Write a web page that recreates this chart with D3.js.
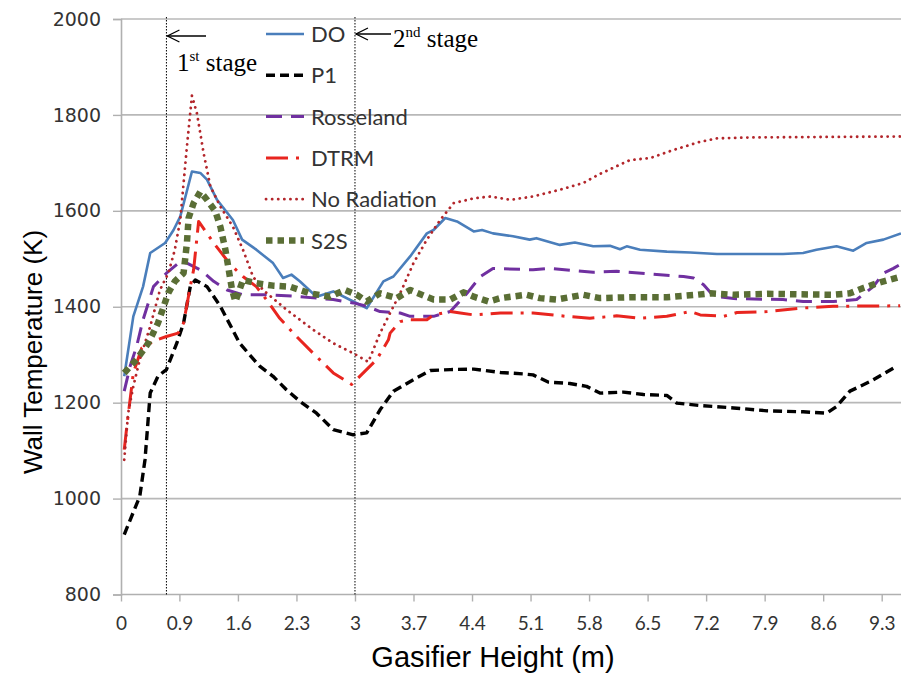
<!DOCTYPE html>
<html>
<head>
<meta charset="utf-8">
<script src="https://cdn.jsdelivr.net/npm/d3@7/dist/d3.min.js"></script>
<style>
  html, body { margin: 0; padding: 0; background: #fff; }
  svg { display: block; }
</style>
</head>
<body>
<svg id="chart" width="901" height="673"></svg>
<script>
// Wall temperature along the gasifier height for each radiation model.
const heightTicks = [0, 0.9, 1.6, 2.3, 3, 3.7, 4.4, 5.1, 5.8, 6.5, 7.2, 7.9, 8.6, 9.3];
const tempTicks = [800, 1000, 1200, 1400, 1600, 1800, 2000];
const stageHeights = [0.7, 3.0];

const seriesNames = ["DO", "P1", "Rosseland", "DTRM", "No Radiation", "S2S"];

// [height (m), wall temperature (K)]
const doTemp = [[0.05,1255],[0.19,1380],[0.34,1442],[0.45,1512],[0.68,1533],[0.81,1560],[0.91,1588],[1.05,1682],[1.15,1679],[1.23,1665],[1.35,1623],[1.54,1581],[1.65,1540],[1.82,1519],[2.02,1491],[2.14,1460],[2.24,1467],[2.34,1453],[2.54,1421],[2.74,1432],[2.98,1411],[3.14,1397],[3.34,1453],[3.46,1463],[3.66,1505],[3.86,1553],[3.94,1560],[4.08,1585],[4.22,1578],[4.42,1557],[4.52,1560],[4.65,1553],[4.89,1547],[5.09,1540],[5.17,1543],[5.45,1529],[5.63,1534],[5.85,1526],[6.05,1527],[6.17,1520],[6.25,1526],[6.41,1519],[6.73,1515],[7.01,1513],[7.33,1510],[7.73,1510],[8.12,1510],[8.36,1512],[8.52,1519],[8.76,1526],[8.96,1517],[9.12,1533],[9.32,1540],[9.53,1553]];
const p1Temp = [[0.05,925],[0.29,1005],[0.37,1081],[0.45,1220],[0.57,1255],[0.70,1269],[0.86,1324],[0.95,1366],[1.03,1442],[1.09,1456],[1.23,1442],[1.39,1401],[1.62,1324],[1.86,1276],[2.02,1255],[2.18,1227],[2.34,1203],[2.54,1178],[2.74,1144],[2.98,1133],[3.14,1137],[3.30,1185],[3.46,1224],[3.70,1248],[3.90,1267],[4.14,1269],[4.42,1270],[4.74,1263],[5.01,1260],[5.13,1258],[5.31,1243],[5.57,1240],[5.77,1234],[5.93,1220],[6.21,1222],[6.45,1217],[6.73,1215],[6.85,1199],[7.13,1194],[7.53,1189],[7.93,1183],[8.36,1181],[8.64,1178],[8.76,1192],[8.92,1224],[9.16,1244],[9.48,1276]];
const rosselandTemp = [[0.05,1224],[0.14,1276],[0.24,1317],[0.34,1373],[0.50,1442],[0.70,1470],[0.91,1494],[0.99,1491],[1.15,1477],[1.31,1453],[1.47,1435],[1.66,1425],[1.94,1425],[2.18,1423],[2.34,1421],[2.74,1415],[2.98,1408],[3.14,1401],[3.30,1390],[3.54,1387],[3.66,1380],[3.94,1380],[4.14,1390],[4.34,1428],[4.50,1463],[4.65,1480],[5.13,1477],[5.33,1480],[5.85,1472],[6.13,1474],[6.93,1463],[7.05,1460],[7.17,1446],[7.29,1422],[7.53,1417],[8.12,1415],[8.36,1411],[8.72,1411],[9.00,1415],[9.20,1442],[9.32,1470],[9.44,1480],[9.52,1488]];
const dtrmTemp = [[0.05,1102],[0.09,1151],[0.14,1206],[0.19,1262],[0.32,1314],[0.55,1331],[0.70,1338],[0.88,1345],[0.95,1366],[1.03,1442],[1.07,1477],[1.13,1578],[1.23,1553],[1.31,1533],[1.51,1488],[1.66,1463],[1.82,1442],[1.94,1415],[2.10,1376],[2.30,1338],[2.50,1303],[2.74,1262],[2.96,1238],[3.26,1290],[3.40,1331],[3.42,1345],[3.54,1369],[3.66,1373],[3.86,1373],[3.94,1383],[4.14,1390],[4.26,1387],[4.42,1383],[4.74,1387],[5.13,1387],[5.53,1380],[5.81,1376],[6.13,1381],[6.41,1376],[6.73,1380],[7.01,1390],[7.13,1383],[7.41,1380],[7.57,1388],[7.93,1390],[8.32,1397],[8.72,1401],[9.52,1402]];
const noRadTemp = [[0.05,1081],[0.11,1178],[0.19,1234],[0.29,1290],[0.45,1359],[0.60,1435],[0.73,1470],[0.83,1519],[0.91,1581],[0.99,1734],[1.05,1840],[1.11,1803],[1.19,1720],[1.27,1651],[1.39,1609],[1.54,1567],[1.66,1519],[1.78,1463],[1.90,1435],[2.18,1394],[2.50,1352],[2.74,1324],[2.98,1303],[3.16,1285],[3.30,1345],[3.42,1387],[3.54,1428],[3.70,1491],[3.86,1540],[4.02,1581],[4.18,1616],[4.42,1626],[4.62,1630],[4.86,1623],[5.13,1630],[5.45,1644],[5.73,1658],[5.93,1677],[6.29,1706],[6.53,1710],[6.81,1727],[7.13,1744],[7.33,1751],[7.73,1753],[9.52,1755]];
const s2sTemp = [[0.05,1262],[0.24,1290],[0.42,1324],[0.57,1366],[0.73,1429],[0.83,1453],[0.95,1470],[0.99,1533],[1.01,1585],[1.07,1616],[1.15,1640],[1.23,1623],[1.33,1599],[1.39,1567],[1.45,1519],[1.53,1435],[1.57,1411],[1.66,1456],[1.82,1449],[2.02,1444],[2.22,1442],[2.46,1428],[2.70,1421],[2.88,1435],[3.02,1425],[3.14,1411],[3.30,1428],[3.50,1418],[3.66,1435],[3.94,1415],[4.14,1415],[4.30,1430],[4.42,1421],[4.60,1411],[4.74,1418],[5.05,1425],[5.21,1418],[5.41,1415],[5.73,1425],[5.93,1418],[6.33,1420],[6.73,1420],[7.09,1425],[7.25,1428],[7.53,1425],[7.93,1427],[8.32,1426],[8.72,1425],[8.92,1428],[9.08,1439],[9.28,1451],[9.53,1463]];

const seriesData = [doTemp, p1Temp, rosselandTemp, dtrmTemp, noRadTemp, s2sTemp];

// Line styles per model
const styles = {
  "DO":           { color: "#4a7ebb", width: 2.6, dash: null,        cap: "butt" },
  "P1":           { color: "#000000", width: 3.4, dash: "9,5",       cap: "butt" },
  "Rosseland":    { color: "#7030a0", width: 3,   dash: "16,9",      cap: "butt" },
  "DTRM":         { color: "#e8251f", width: 3,   dash: "22,8,3,8",  cap: "butt" },
  "No Radiation": { color: "#b3262b", width: 2.8, dash: "0.1,6",     cap: "round" },
  "S2S":          { color: "#5a6e35", width: 6.5, dash: "6.5,5",     cap: "butt" }
};

const plot = { left: 121, right: 901, top: 19, bottom: 594.5 };

const svg = d3.select("#chart");

// Category-style axis: first label interval spans 0–0.9 m, the rest 0.7 m each
const x = d3.scaleLinear().domain([0, 0.9, 9.3]).range([121, 179.4, 881.7]);
const y = d3.scaleLinear().domain([800, 2000]).range([plot.bottom, plot.top]);

// Horizontal gridlines
svg.append("g").selectAll("line").data(tempTicks.filter(t => t > 800)).join("line")
  .attr("x1", plot.left).attr("x2", plot.right)
  .attr("y1", d => y(d)).attr("y2", d => y(d))
  .attr("stroke", "#b8b8b8").attr("stroke-width", 1.6);

// Y axis
const yAxis = svg.append("g").attr("transform", `translate(${plot.left},0)`)
  .call(d3.axisLeft(y).tickValues(tempTicks).tickSize(8).tickPadding(12).tickFormat(d3.format("d")));
yAxis.select(".domain").attr("stroke", "#b0b0b0").attr("stroke-width", 1.6);
yAxis.selectAll(".tick line").attr("stroke", "#b0b0b0").attr("stroke-width", 1.4);
yAxis.selectAll(".tick text")
  .attr("font-family", "'DejaVu Sans', Verdana, sans-serif")
  .attr("font-size", 19).attr("fill", "#333");

// X axis
const xAxis = svg.append("g").attr("transform", `translate(0,${plot.bottom})`)
  .call(d3.axisBottom(x).tickValues(heightTicks).tickSize(7).tickPadding(15).tickFormat(d => String(d)));
xAxis.select(".domain").attr("d", `M${plot.left},0H${plot.right}`)
  .attr("stroke", "#b0b0b0").attr("stroke-width", 1.6);
xAxis.selectAll(".tick line").attr("stroke", "#b0b0b0").attr("stroke-width", 1.4);
xAxis.selectAll(".tick text")
  .attr("font-family", "Lato, 'Open Sans', sans-serif")
  .attr("font-size", 19).attr("fill", "#333");

// Stage boundaries
svg.append("g").selectAll("line").data(stageHeights).join("line")
  .attr("x1", d => x(d)).attr("x2", d => x(d))
  .attr("y1", plot.top - 2).attr("y2", plot.bottom)
  .attr("stroke", "#000").attr("stroke-width", 1).attr("stroke-dasharray", "1.5,1.5");

// Series lines
const line = d3.line().x(d => x(d[0])).y(d => y(d[1]));
const lines = svg.append("g");
seriesNames.forEach((name, i) => {
  const s = styles[name];
  lines.append("path")
    .datum(seriesData[i])
    .attr("d", line)
    .attr("fill", "none")
    .attr("stroke", s.color)
    .attr("stroke-width", s.width)
    .attr("stroke-linecap", s.cap)
    .attr("stroke-linejoin", "round")
    .attr("stroke-dasharray", s.dash);
});

// Legend
const legend = svg.append("g");
const legendTop = 34, legendStep = 41.3;
seriesNames.forEach((name, i) => {
  const s = styles[name];
  const cy = legendTop + i * legendStep;
  legend.append("line")
    .attr("x1", 266).attr("x2", 304).attr("y1", cy).attr("y2", cy)
    .attr("stroke", s.color).attr("stroke-width", s.width)
    .attr("stroke-linecap", s.cap).attr("stroke-dasharray", s.dash);
  legend.append("text")
    .attr("x", 311).attr("y", cy + 8)
    .attr("font-family", "Lato, 'Open Sans', sans-serif")
    .attr("font-size", 22).attr("fill", "#333")
    .text(name);
});

// Stage annotations
const serif = "'Liberation Serif', 'Times New Roman', serif";
function arrow(tipX, tailX, yy) {
  const g = svg.append("g").attr("stroke", "#000").attr("stroke-width", 1.3).attr("fill", "none");
  g.append("line").attr("x1", tipX).attr("x2", tailX).attr("y1", yy).attr("y2", yy);
  g.append("path").attr("d", `M${tipX + 12},${yy - 6}L${tipX},${yy}L${tipX + 12},${yy + 6}`);
}
arrow(x(stageHeights[0]) + 1, 206, 36);
arrow(x(stageHeights[1]) + 1, 391, 34);

const t1 = svg.append("text").attr("x", 177).attr("y", 71)
  .attr("font-family", serif).attr("font-size", 25).attr("fill", "#000");
t1.append("tspan").text("1");
t1.append("tspan").attr("font-size", 15).attr("dy", -10).text("st");
t1.append("tspan").attr("dy", 10).text(" stage");

const t2 = svg.append("text").attr("x", 393).attr("y", 47)
  .attr("font-family", serif).attr("font-size", 25).attr("fill", "#000");
t2.append("tspan").text("2");
t2.append("tspan").attr("font-size", 15).attr("dy", -10).text("nd");
t2.append("tspan").attr("dy", 10).text(" stage");

// Axis titles
svg.append("text")
  .attr("x", 493).attr("y", 667)
  .attr("text-anchor", "middle")
  .attr("font-family", "'Liberation Sans', Arial, sans-serif")
  .attr("font-size", 29).attr("fill", "#000")
  .text("Gasifier Height (m)");

svg.append("text")
  .attr("transform", "translate(42,352) rotate(-90)")
  .attr("text-anchor", "middle")
  .attr("font-family", "'Liberation Sans', Arial, sans-serif")
  .attr("font-size", 26).attr("fill", "#000")
  .text("Wall Temperature (K)");
</script>
</body>
</html>
